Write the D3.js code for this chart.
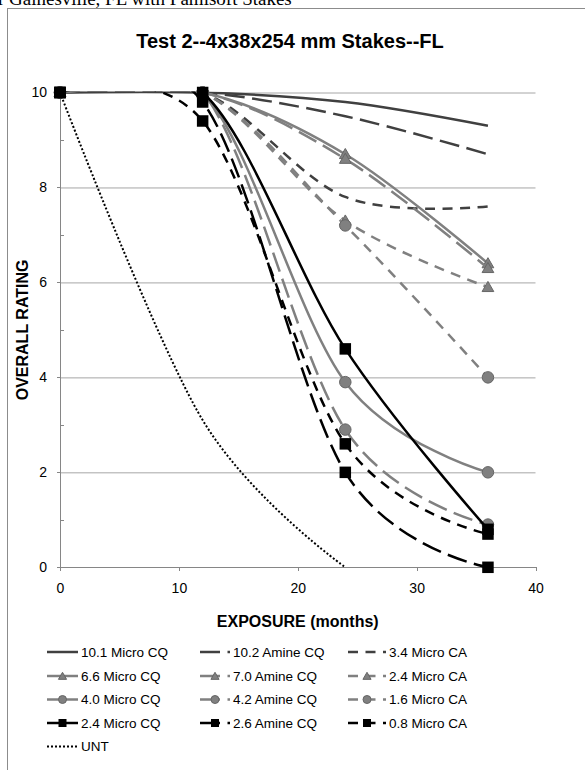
<!DOCTYPE html>
<html>
<head>
<meta charset="utf-8">
<script src="https://cdn.jsdelivr.net/npm/d3@7"></script>
<style>
  body { margin: 0; background: #fff; }
  svg { display: block; font-family: Arial, "Liberation Sans", sans-serif; }
  .grid line { stroke: #a6a6a6; stroke-width: 1; }
  .axis path, .axis line { stroke: #868686; shape-rendering: crispEdges; }
  .axis text { fill: #000; font-size: 14px; }
  .axis-title { font-weight: bold; font-size: 16px; fill: #000; }
  .legend text { font-size: 13.5px; fill: #000; }
</style>
</head>
<body>
<svg id="chart" width="585" height="770"></svg>
<script>
// exposure months and tick values
var months = [0, 12, 24, 36];
var untMonths = [0, 12, 24];
var xTicks = [0, 10, 20, 30, 40];
var yTicks = [0, 2, 4, 6, 8, 10];
var yMinor = [1, 3, 5, 7, 9];

var names = ["10.1 Micro CQ", "10.2 Amine CQ", "3.4 Micro CA",
             "6.6 Micro CQ", "7.0 Amine CQ", "2.4 Micro CA",
             "4.0 Micro CQ", "4.2 Amine CQ", "1.6 Micro CA",
             "2.4 Micro CQ", "2.6 Amine CQ", "0.8 Micro CA", "UNT"];

// overall ratings
var micro101  = [10, 10, 9.8, 9.3],
    amine102  = [10, 10, 9.5, 8.7],
    microCA34 = [10, 10, 7.8, 7.6],
    micro66   = [10, 10, 8.7, 6.4],
    amine70   = [10, 10, 8.6, 6.3],
    microCA24 = [10, 10, 7.3, 5.9],
    micro40   = [10, 10, 3.9, 2.0],
    amine42   = [10, 10, 2.9, 0.9],
    microCA16 = [10, 10, 7.2, 4.0],
    micro24   = [10, 10, 4.6, 0.8],
    amine26   = [10, 9.8, 2.0, 0.0],
    microCA08 = [10, 9.4, 2.6, 0.7],
    unt       = [10, 3.1, 0];

var seriesValues = [micro101, amine102, microCA34, micro66, amine70, microCA24,
                    micro40, amine42, microCA16, micro24, amine26, microCA08, unt];

// look of each series
var darkGray = "#404040", gray = "#808080", black = "#000";
var colors = [darkGray, darkGray, darkGray, gray, gray, gray, gray, gray, gray, black, black, black, black];
var dashes = {solid: null, long: "20,7.5", short: "10,7.5", dot: "2,2"};
var lineDash = ["solid", "long", "short", "solid", "long", "short", "solid", "long", "short", "solid", "long", "short", "dot"];
var markers = [null, null, null, "tri", "tri", "tri", "circle", "circle", "circle", "square", "square", "square", null];

var svg = d3.select("#chart");

var x = d3.scaleLinear().domain([0, 40]).range([60, 535.5]);
var y = d3.scaleLinear().domain([0, 10]).range([567.3, 92.5]);

// chart frame (runs off the page at right and bottom)
svg.append("rect")
    .attr("x", 7.5).attr("y", 8.5)
    .attr("width", 620).attr("height", 800)
    .attr("fill", "none").attr("stroke", "#8c8c8c");

// caption of the page above, mostly cut off in the source too
svg.append("text")
    .attr("x", -2).attr("y", 5)
    .attr("font-family", "Liberation Serif, serif")
    .attr("font-size", 19)
    .text("r Gainesville, FL with Pamlsoft Stakes");

svg.append("text")
    .attr("x", 290).attr("y", 48)
    .attr("text-anchor", "middle")
    .attr("font-weight", "bold")
    .attr("font-size", 20)
    .text("Test 2--4x38x254 mm Stakes--FL");

svg.append("g")
    .attr("class", "grid")
    .attr("transform", "translate(60,0)")
    .call(d3.axisLeft(y).tickValues(yTicks.slice(1)).tickSize(-(x(40) - x(0))).tickFormat(""))
    .call(function(g) { g.select(".domain").remove(); });

svg.append("g")
    .attr("class", "axis axis--y")
    .attr("transform", "translate(60,0)")
    .call(d3.axisLeft(y).tickValues(yTicks).tickSize(3).tickPadding(10).tickSizeOuter(0));

svg.append("g")
    .attr("class", "axis axis--minor")
    .attr("transform", "translate(60,0)")
    .call(d3.axisRight(y).tickValues(yMinor).tickSize(4).tickFormat("").tickSizeOuter(0))
    .call(function(g) { g.select(".domain").remove(); });

svg.append("g")
    .attr("class", "axis axis--x")
    .attr("transform", "translate(0," + y(0) + ")")
    .call(d3.axisBottom(x).tickValues(xTicks).tickSize(4).tickPadding(12).tickSizeOuter(0));

svg.append("text")
    .attr("class", "axis-title")
    .attr("transform", "translate(28," + ((y(0) + y(10)) / 2) + ") rotate(-90)")
    .attr("text-anchor", "middle")
    .text("OVERALL RATING");

svg.append("text")
    .attr("class", "axis-title")
    .attr("x", (x(0) + x(40)) / 2).attr("y", 627)
    .attr("text-anchor", "middle")
    .text("EXPOSURE (months)");

svg.append("clipPath").attr("id", "plotclip")
  .append("rect")
    .attr("x", x(0)).attr("y", y(10) - 1)
    .attr("width", x(40) - x(0)).attr("height", y(0) - y(10) + 6);

var line = d3.line()
    .x(function(d) { return x(d.month); })
    .y(function(d) { return y(d.rating); })
    .curve(d3.curveCardinal.tension(0));

function drawMarker(g, type, cx, cy, size, color) {
  if (type == "circle") {
    g.append("circle").attr("cx", cx).attr("cy", cy).attr("r", size / 2)
        .attr("fill", color).attr("stroke", "#666");
  } else if (type == "square") {
    g.append("rect").attr("x", cx - size / 2).attr("y", cy - size / 2)
        .attr("width", size).attr("height", size).attr("fill", color);
  } else if (type == "tri") {
    g.append("path")
        .attr("d", d3.symbol(d3.symbolTriangle, size * size * 0.45)())
        .attr("transform", "translate(" + cx + "," + (cy + 1) + ")")
        .attr("fill", color).attr("stroke", "#666");
  }
}

var plot = svg.append("g");

seriesValues.forEach(function(vals, i) {
  var xs = vals.length == 3 ? untMonths : months;
  var data = vals.map(function(v, j) { return {month: xs[j], rating: v}; });
  var g = plot.append("g");
  g.append("path")
      .datum(data)
      .attr("clip-path", "url(#plotclip)")
      .attr("fill", "none")
      .attr("stroke", colors[i])
      .attr("stroke-width", lineDash[i] == "dot" ? 2 : 2.5)
      .attr("stroke-dasharray", dashes[lineDash[i]])
      .attr("d", line);
  if (markers[i]) {
    data.forEach(function(d) {
      drawMarker(g, markers[i], x(d.month), y(d.rating), 11.5, colors[i]);
    });
  }
});

// legend, three columns
var legend = svg.append("g").attr("class", "legend");
var colStart = [47, 200, 348], colLen = [31, 30, 38];
var rowY = [652, 676, 699.5, 723, 746.5];

names.forEach(function(name, i) {
  var col = i % 3, row = Math.floor(i / 3);
  var x0 = colStart[col], yy = rowY[row];
  var g = legend.append("g");
  g.append("line")
      .attr("x1", x0).attr("x2", x0 + colLen[col])
      .attr("y1", yy).attr("y2", yy)
      .attr("stroke", colors[i])
      .attr("stroke-width", lineDash[i] == "dot" ? 2 : 2.5)
      .attr("stroke-dasharray", dashes[lineDash[i]]);
  if (markers[i]) drawMarker(g, markers[i], x0 + colLen[col] / 2, yy, 8, colors[i]);
  g.append("text")
      .attr("x", x0 + colLen[col] + 3).attr("y", yy)
      .attr("dy", "0.36em")
      .text(name);
});
</script>
</body>
</html>
